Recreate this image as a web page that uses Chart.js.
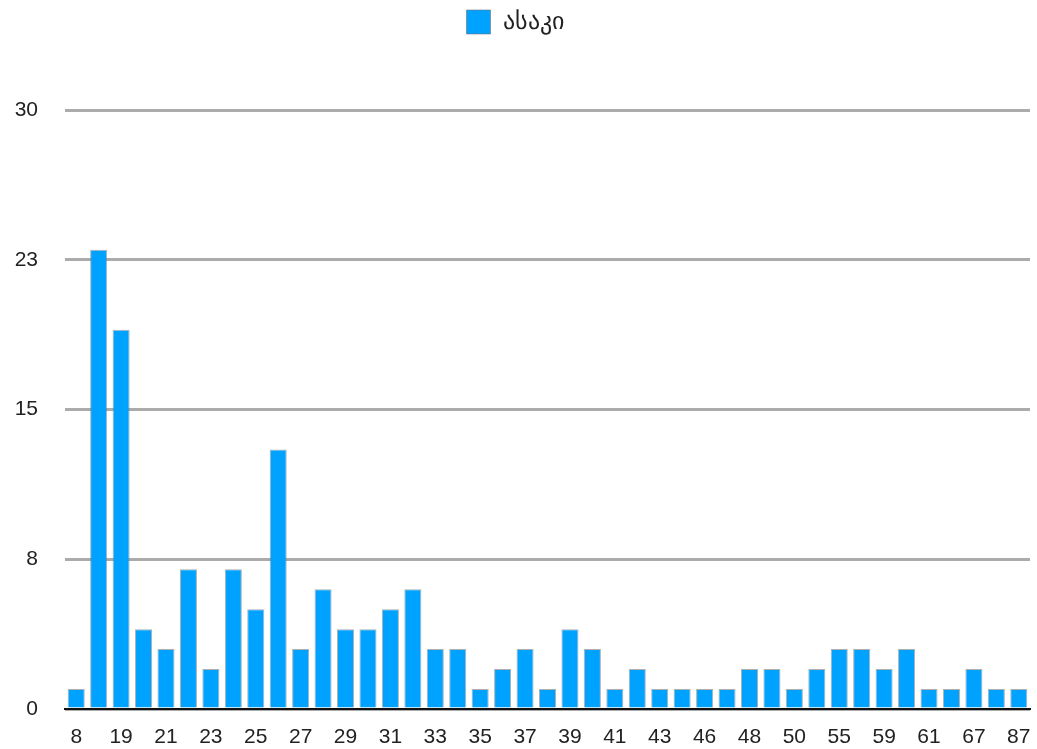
<!DOCTYPE html>
<html>
<head>
<meta charset="utf-8">
<script src="https://cdn.jsdelivr.net/npm/chart.js@4/dist/chart.umd.min.js"></script>
<style>
    html, body { margin: 0; padding: 0; background: #fff; }
    #wrap { width: 1037px; height: 749px; }
</style>
</head>
<body>
<div id="wrap"><canvas id="ageChart"></canvas></div>
<script>
// Ages (every other one is shown on the axis)
const ages = [8, 18, 19, 20, 21, 22, 23, 24, 25, 26, 27, 28, 29, 30, 31, 32, 33, 34, 35, 36, 37, 38,
    39, 40, 41, 42, 43, 45, 46, 47, 48, 49, 50, 52, 55, 57, 59, 60, 61, 64, 67, 70, 87];
// Count of people per age
const counts = [1, 23, 19, 4, 3, 7, 2, 7, 5, 13, 3, 6, 4, 4, 5, 6, 3, 3, 1, 2, 3, 1,
    4, 3, 1, 2, 1, 1, 1, 1, 2, 2, 1, 2, 3, 3, 2, 3, 1, 1, 2, 1, 1];
const seriesLabel = 'ასაკი';
const yTicks = [0, 7.5, 15, 22.5, 30];

const FONT = "'Liberation Sans', Arial, Helvetica, sans-serif";

// push the plot down below the legend
const legendGap = {
    id: 'legendGap',
    beforeInit(chart) {
        const origFit = chart.legend.fit;
        chart.legend.fit = function () {
            origFit.bind(chart.legend)();
            this.height += 66;
        };
    }
};

const ctx = document.getElementById('ageChart').getContext('2d');
new Chart(ctx, {
    type: 'bar',
    data: {
        labels: ages,
        datasets: [{
            label: seriesLabel,
            data: counts,
            backgroundColor: '#00A2FF',
            borderColor: 'rgba(110, 110, 110, 0.55)',
            borderWidth: 1,
            categoryPercentage: 0.8,
            barPercentage: 0.95
        }]
    },
    options: {
        responsive: true,
        maintainAspectRatio: false,
        animation: false,
        layout: { padding: { top: 0, right: 7, left: 0, bottom: 0 } },
        plugins: {
            legend: {
                display: true,
                labels: {
                    boxWidth: 24,
                    boxHeight: 24,
                    padding: 10,
                    color: '#222',
                    font: { family: FONT, size: 24 }
                }
            },
            tooltip: { enabled: false }
        },
        scales: {
            x: {
                grid: { display: false, drawTicks: false },
                border: { display: true, color: '#111', width: 2 },
                ticks: {
                    autoSkip: false,
                    maxRotation: 0,
                    padding: 16,
                    color: '#222',
                    font: { family: FONT, size: 21 },
                    callback: (val, i) => (i % 2 === 0 ? ages[i] : '')
                },
                afterFit: (scale) => {
                    scale.height = 40;
                    scale.paddingLeft = 0;
                    scale.paddingRight = 0;
                }
            },
            y: {
                min: 0,
                max: 30,
                afterBuildTicks: (scale) => { scale.ticks = yTicks.map(v => ({ value: v })); },
                grid: { color: '#ababab', lineWidth: 3, drawTicks: false },
                border: { display: false },
                ticks: {
                    padding: 27,
                    color: '#222',
                    font: { family: FONT, size: 21 },
                    callback: (v) => Math.round(v)
                },
                afterFit: (scale) => { scale.width = 65; }
            }
        }
    },
    plugins: [legendGap]
});
</script>
</body>
</html>
